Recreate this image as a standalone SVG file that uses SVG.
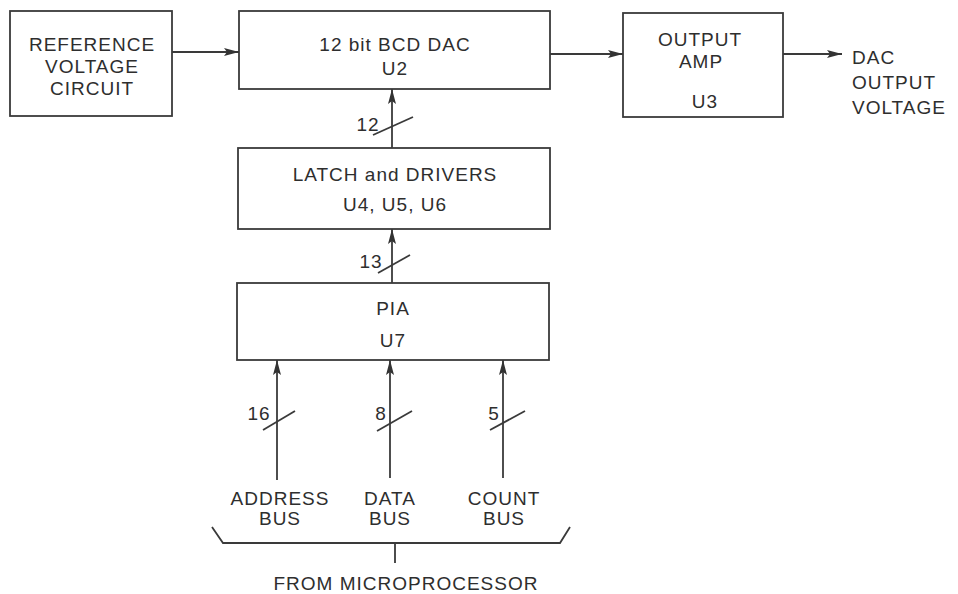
<svg xmlns="http://www.w3.org/2000/svg" width="958" height="594" viewBox="0 0 958 594">
<defs>
<style>
.box{fill:#fff;stroke:#3a3a3a;stroke-width:1.8}
.ln{fill:none;stroke:#3a3a3a;stroke-width:1.8}
text{font-family:"Liberation Sans",Arial,sans-serif;font-size:19px;fill:#2e2e2e;letter-spacing:1px;text-anchor:middle}
.l{text-anchor:start}
</style>
<marker id="ah" viewBox="0 0 15 9" refX="15" refY="4.5" markerWidth="15" markerHeight="9" markerUnits="userSpaceOnUse" orient="auto">
<path d="M0,0.5 L15,4.5 L0,8.5 L3,4.5 Z" fill="#333"/>
</marker>
</defs>
<rect width="958" height="594" fill="#fff"/>
<g id="ref">
<rect class="box" x="10" y="11" width="162" height="105"/>
<text x="92" y="51">REFERENCE</text>
<text x="92" y="73">VOLTAGE</text>
<text x="92" y="95">CIRCUIT</text>
</g>
<g id="dac">
<rect class="box" x="239" y="11" width="311" height="78"/>
<text x="395" y="51">12 bit BCD DAC</text>
<text x="395" y="75">U2</text>
</g>
<g id="amp">
<rect class="box" x="623" y="13" width="160" height="104"/>
<text x="700" y="46">OUTPUT</text>
<text x="701" y="68">AMP</text>
<text x="705" y="108">U3</text>
</g>
<g id="out">
<text class="l" x="852" y="64">DAC</text>
<text class="l" x="852" y="89">OUTPUT</text>
<text class="l" x="852" y="114">VOLTAGE</text>
</g>
<g id="latch">
<rect class="box" x="238" y="148" width="312" height="81"/>
<text x="395" y="181">LATCH and DRIVERS</text>
<text x="395" y="211">U4, U5, U6</text>
</g>
<g id="pia">
<rect class="box" x="237" y="283" width="312" height="77"/>
<text x="393" y="315">PIA</text>
<text x="393" y="347">U7</text>
</g>
<g id="buses">
<text x="280" y="505">ADDRESS</text>
<text x="280" y="525">BUS</text>
<text x="390" y="505">DATA</text>
<text x="390" y="525">BUS</text>
<text x="504" y="505">COUNT</text>
<text x="504" y="525">BUS</text>
<text x="406" y="590">FROM MICROPROCESSOR</text>
</g>
<g id="connectors">
<line class="ln" x1="172" y1="52" x2="239" y2="52" marker-end="url(#ah)"/>
<line class="ln" x1="550" y1="54" x2="623" y2="54" marker-end="url(#ah)"/>
<line class="ln" x1="783" y1="54" x2="842" y2="54" marker-end="url(#ah)"/>
<line class="ln" x1="392" y1="148" x2="392" y2="89" marker-end="url(#ah)"/>
<line class="ln" x1="373" y1="135" x2="413" y2="117"/>
<text x="368" y="131">12</text>
<line class="ln" x1="392" y1="283" x2="392" y2="229" marker-end="url(#ah)"/>
<line class="ln" x1="378" y1="273" x2="410" y2="255"/>
<text x="371" y="268">13</text>
<line class="ln" x1="277" y1="480" x2="277" y2="360" marker-end="url(#ah)"/>
<line class="ln" x1="263" y1="430" x2="295" y2="411"/>
<text x="259" y="420">16</text>
<line class="ln" x1="390" y1="478" x2="390" y2="360" marker-end="url(#ah)"/>
<line class="ln" x1="377" y1="431" x2="412" y2="411"/>
<text x="381" y="420">8</text>
<line class="ln" x1="503" y1="478" x2="503" y2="360" marker-end="url(#ah)"/>
<line class="ln" x1="490" y1="430" x2="525" y2="411"/>
<text x="494" y="420">5</text>
<path class="ln" d="M212,527 L223,543 L560,543 L570,527 M395,543 L395,563"/>
</g>
</svg>
